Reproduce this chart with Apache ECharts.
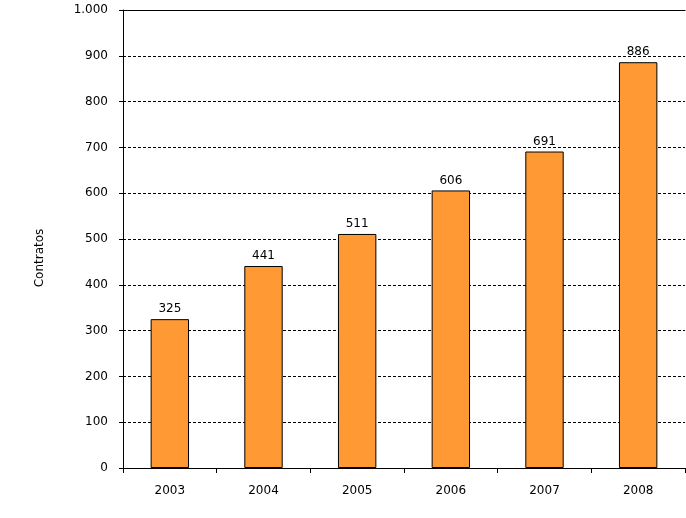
<!DOCTYPE html>
<html>
<head>
<meta charset="utf-8">
<script src="https://cdn.jsdelivr.net/npm/echarts@6/dist/echarts.min.js"></script>
<style>
  html, body { margin: 0; padding: 0; background: #fff; }
  #chart { width: 686px; height: 518px; }
</style>
</head>
<body>
<div id="chart"></div>
<script>
  const years = ['2003', '2004', '2005', '2006', '2007', '2008'];
  const contratos = [325, 441, 511, 606, 691, 886];

  const font = 'Verdana, "DejaVu Sans", sans-serif';
  const chart = echarts.init(document.getElementById('chart'));
  chart.setOption({
    animation: false,
    grid: { left: 123, right: 1, top: 10, bottom: 50 },
    graphic: [
      {
        type: 'text',
        x: 40,
        y: 258,
        rotation: Math.PI / 2,
        style: {
          text: 'Contratos',
          fill: '#000',
          font: '12px ' + font,
          align: 'center',
          verticalAlign: 'middle'
        }
      }
    ],
    xAxis: [
      {
        type: 'category',
        data: years,
        axisLine: { lineStyle: { color: '#000', width: 1 } },
        axisTick: { show: true, length: 5, lineStyle: { color: '#000' } },
        axisLabel: { color: '#000', fontFamily: font, fontSize: 12, margin: 17 }
      },
      {
        // solid top border at 1.000
        type: 'category',
        position: 'top',
        data: years,
        axisLine: { lineStyle: { color: '#000', width: 1 } },
        axisTick: { show: false },
        axisLabel: { show: false }
      }
    ],
    yAxis: {
      type: 'value',
      min: 0,
      max: 1000,
      interval: 100,
      axisLine: { show: true, lineStyle: { color: '#000', width: 1 } },
      axisTick: { show: true, length: 4, lineStyle: { color: '#000' } },
      axisLabel: {
        color: '#000',
        fontFamily: font,
        fontSize: 12,
        margin: 15,
        formatter: (v) => v === 1000 ? '1.000' : String(v)
      },
      splitLine: { show: true, lineStyle: { color: '#000', type: [3, 2], width: 1 } }
    },
    series: [
      {
        type: 'bar',
        data: contratos,
        barWidth: '41%',
        itemStyle: { color: '#FF9933', borderColor: '#000', borderWidth: 1 },
        label: {
          show: true,
          position: 'top',
          distance: 4,
          color: '#000',
          fontFamily: font,
          fontSize: 12
        }
      }
    ]
  });
</script>
</body>
</html>
